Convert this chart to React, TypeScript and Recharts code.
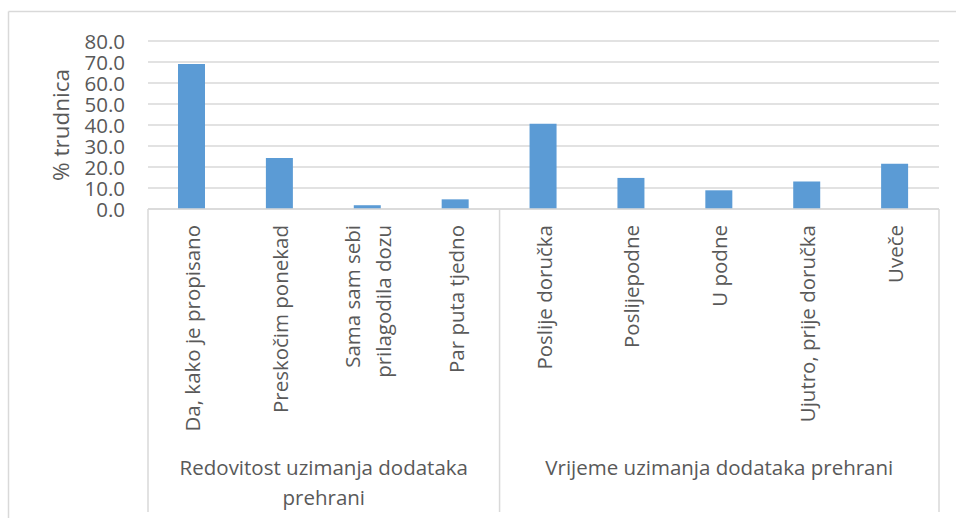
import { BarChart, Bar, XAxis, YAxis, CartesianGrid } from "recharts";

const categoryLines = [
  ["Da, kako je propisano"],
  ["Preskočim ponekad"],
  ["Sama sam sebi", "prilagodila dozu"],
  ["Par puta tjedno"],
  ["Poslije doručka"],
  ["Poslijepodne"],
  ["U podne"],
  ["Ujutro, prije doručka"],
  ["Uveče"],
];
const values = [69.0, 24.3, 1.8, 4.6, 40.6, 14.8, 8.9, 13.1, 21.5];
const groupLines = [
  ["Redovitost uzimanja dodataka", "prehrani"],
  ["Vrijeme uzimanja dodataka prehrani"],
];
const groupSizes = [4, 5];
const yTicks = [0, 10, 20, 30, 40, 50, 60, 70, 80];

const W = 956;
const H = 518;
const MARGIN = { top: 41, right: 17, left: 0, bottom: 0 };
const Y_WIDTH = 148;
const PLOT_H = 168;
const AXIS_Y = MARGIN.top + PLOT_H;
const BAND = (W - Y_WIDTH - MARGIN.right) / categoryLines.length;
const BOTTOM_LINE = 512;

const TEXT = "#595959";
const GRID = "#d9d9d9";
const BAR = "#5b9bd5";
const FONT = "'Open Sans', sans-serif";
const FS = 20.5;

const data = categoryLines.map((lines, i) => ({
  name: lines.join(" "),
  value: values[i],
}));

// first index of each group
const groupStarts = groupSizes.map((_, g) =>
  groupSizes.slice(0, g).reduce((a, b) => a + b, 0)
);

function XTick(props: any) {
  const { x, index } = props;
  const lines = categoryLines[index] || [];
  const lh = 31;
  const top = AXIS_Y + 16;
  const g = groupStarts.indexOf(index);
  const extras: any[] = [];
  if (g >= 0) {
    const left = x - BAND / 2;
    const cx = left + (groupSizes[g] * BAND) / 2;
    extras.push(
      <line key="sep" x1={left} x2={left} y1={AXIS_Y} y2={BOTTOM_LINE} stroke={GRID} strokeWidth={1.5} />
    );
    groupLines[g].forEach((t, k) =>
      extras.push(
        <text key={"g" + k} x={cx} y={467 + k * 30} textAnchor="middle" dominantBaseline="central"
          fill={TEXT} fontSize={FS} fontFamily={FONT}>
          {t}
        </text>
      )
    );
  }
  if (index === categoryLines.length - 1) {
    const right = x + BAND / 2;
    extras.push(
      <line key="end" x1={right} x2={right} y1={AXIS_Y} y2={BOTTOM_LINE} stroke={GRID} strokeWidth={1.5} />
    );
  }
  return (
    <g>
      {lines.map((t, k) => {
        const lx = x + (k - (lines.length - 1) / 2) * lh;
        return (
          <text key={k} x={lx} y={top} transform={`rotate(-90, ${lx}, ${top})`}
            textAnchor="end" dominantBaseline="central" fill={TEXT} fontSize={FS} fontFamily={FONT}>
            {t}
          </text>
        );
      })}
      {extras}
    </g>
  );
}

function YTick(props: any) {
  const { y, payload } = props;
  return (
    <text x={Y_WIDTH - 23} y={y} textAnchor="end" dominantBaseline="central"
      fill={TEXT} fontSize={FS} fontFamily={FONT}>
      {Number(payload.value).toFixed(1)}
    </text>
  );
}

export default function App() {
  return (
    <div style={{ position: "absolute", left: 0, top: 0, width: W, height: H, background: "#fff" }}>
      <svg width={W} height={H} style={{ position: "absolute", left: 0, top: 0 }}>
        <line x1={8.5} x2={8.5} y1={11.5} y2={H} stroke={GRID} strokeWidth={1.5} />
        <line x1={8.5} x2={W} y1={11.5} y2={11.5} stroke={GRID} strokeWidth={1.5} />
        <text x={60} y={125} transform="rotate(-90, 60, 125)" textAnchor="middle"
          dominantBaseline="central" fill={TEXT} fontSize={22.5} fontFamily={FONT}>
          % trudnica
        </text>
      </svg>
      <div style={{ position: "absolute", left: 0, top: 0 }}>
        <BarChart width={W} height={H} data={data} margin={MARGIN}>
          <CartesianGrid vertical={false} stroke={GRID} strokeWidth={1.5} />
          <XAxis
            dataKey="name"
            interval={0}
            height={H - AXIS_Y}
            axisLine={{ stroke: GRID, strokeWidth: 1.5 }}
            tickLine={false}
            tick={<XTick />}
          />
          <YAxis
            width={Y_WIDTH}
            domain={[0, 80]}
            ticks={yTicks}
            interval={0}
            axisLine={false}
            tickLine={false}
            tick={<YTick />}
          />
          <Bar dataKey="value" fill={BAR} barSize={27} isAnimationActive={false} />
        </BarChart>
      </div>
    </div>
  );
}
